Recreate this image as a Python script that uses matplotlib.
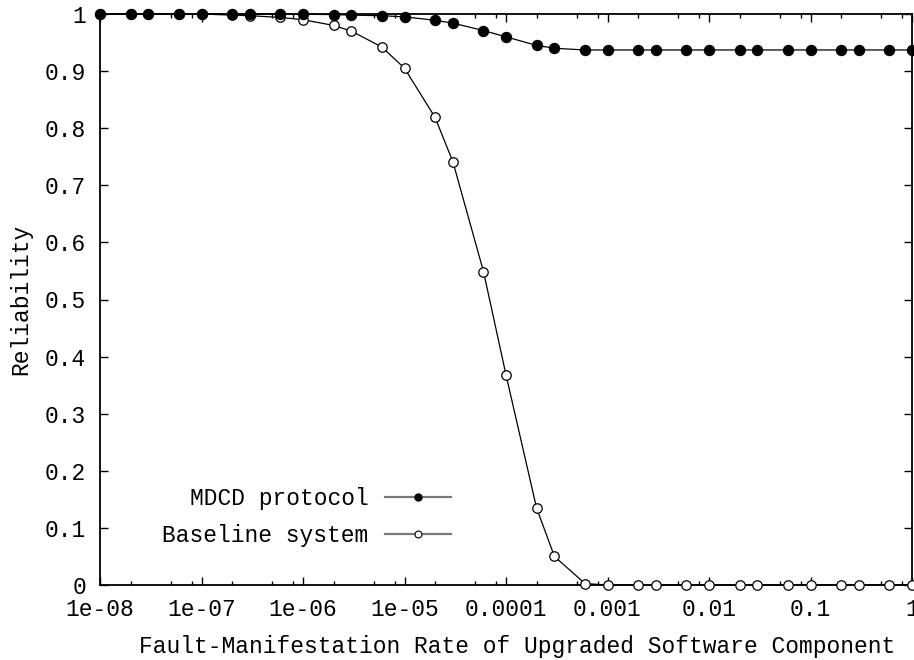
import matplotlib
matplotlib.use('Agg')
import matplotlib.pyplot as plt
from matplotlib.lines import Line2D
from matplotlib.ticker import FixedLocator, NullFormatter

plt.rcParams['font.family'] = ['Liberation Mono', 'DejaVu Sans Mono']
plt.rcParams['font.size'] = 16.5

# data
rate = [1e-8, 2e-8, 3e-8, 6e-8, 1e-7, 2e-7, 3e-7, 6e-7,
        1e-6, 2e-6, 3e-6, 6e-6, 1e-5, 2e-5, 3e-5, 6e-5,
        1e-4, 2e-4, 3e-4, 6e-4, 1e-3, 2e-3, 3e-3, 6e-3,
        1e-2, 2e-2, 3e-2, 6e-2, 0.1, 0.2, 0.3, 0.6, 1]
mdcd = [1, 1, 1, 1, 1, 1, 1, 0.9999,
        0.9995, 0.999, 0.998, 0.997, 0.995, 0.989, 0.984, 0.971,
        0.960, 0.945, 0.940, 0.937, 0.937, 0.937, 0.937, 0.937,
        0.937, 0.937, 0.937, 0.937, 0.937, 0.937, 0.937, 0.937, 0.937]
baseline = [1, 1, 1, 1, 1, 0.998, 0.997, 0.994,
            0.990, 0.980, 0.970, 0.942, 0.905, 0.819, 0.741, 0.549,
            0.368, 0.135, 0.050, 0.0025, 0, 0, 0, 0,
            0, 0, 0, 0, 0, 0, 0, 0, 0]

xtick_pos = [1e-8, 1e-7, 1e-6, 1e-5, 1e-4, 1e-3, 1e-2, 0.1, 1]
xtick_labels = ['1e-08', '1e-07', '1e-06', '1e-05', '0.0001', '0.001', '0.01', '0.1', '1']
xminor = [m * d for d in [1e-8, 1e-7, 1e-6, 1e-5, 1e-4, 1e-3, 1e-2, 0.1] for m in (2, 5, 8)]
ytick_pos = [0, 0.1, 0.2, 0.3, 0.4, 0.5, 0.6, 0.7, 0.8, 0.9, 1]
ytick_labels = ['0', '0.1', '0.2', '0.3', '0.4', '0.5', '0.6', '0.7', '0.8', '0.9', '1']

fig = plt.figure(figsize=(9.14, 6.60), dpi=100)
ax = fig.add_axes([100 / 914, 75 / 660, 812 / 914, 571 / 660])

ax.plot(rate, baseline, color='black', lw=0.9, marker='o', ms=6.8,
        mfc='white', mec='black', mew=0.9, clip_on=False, zorder=3)
ax.plot(rate, mdcd, color='black', lw=0.9, marker='o', ms=7.2,
        mfc='black', mec='black', clip_on=False, zorder=4)

ax.set_xscale('log')
ax.set_xlim(1e-8, 1)
ax.set_ylim(0, 1)
ax.xaxis.set_major_locator(FixedLocator(xtick_pos))
ax.set_xticklabels(xtick_labels)
ax.xaxis.set_minor_locator(FixedLocator(xminor))
ax.xaxis.set_minor_formatter(NullFormatter())
ax.set_yticks(ytick_pos)
ax.set_yticklabels(ytick_labels)

ax.tick_params(which='both', direction='in', top=True, right=True, width=1.0)
ax.tick_params(which='major', length=6)
ax.tick_params(which='minor', length=3)
ax.tick_params(axis='x', which='major', pad=9)
ax.tick_params(axis='y', which='major', pad=10)
for s in ax.spines.values():
    s.set_linewidth(1.3)

ax.set_xlabel('Fault-Manifestation Rate of Upgraded Software Component')
ax.xaxis.set_label_coords((517 - 100) / 812, -0.088)
ax.set_ylabel('Reliability')
ax.yaxis.set_label_coords(-0.084, 0.5)

handles = [
    Line2D([], [], color='#7a7a7a', lw=1.6, marker='o', ms=5, mfc='black', mec='black'),
    Line2D([], [], color='#7a7a7a', lw=1.6, marker='o', ms=5, mfc='white', mec='black', mew=0.8),
]
fig.legend(handles, ['MDCD protocol', 'Baseline system'], markerfirst=False,
           frameon=False, loc='upper right', bbox_to_anchor=(451 / 914, 1 - 487 / 660),
           borderpad=0, borderaxespad=0, handlelength=2.9, handletextpad=0.7,
           labelspacing=0.62)

fig.savefig('out.png', dpi=100)
